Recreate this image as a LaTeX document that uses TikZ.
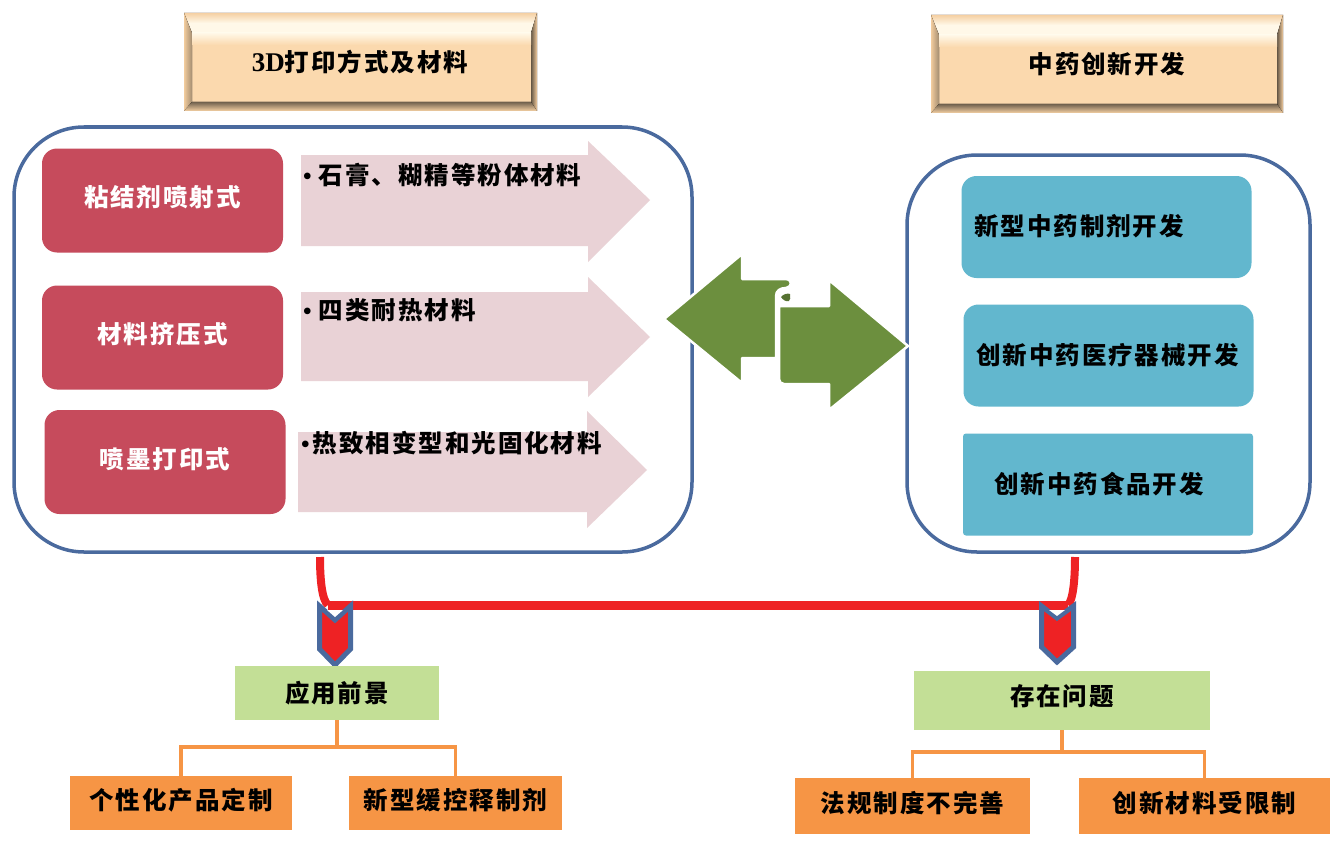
\documentclass[tikz,border=0pt]{standalone}
\usepackage{fontspec}
\setmainfont{Liberation Serif}
\newfontfamily\cjk[LetterSpace=8]{Noto Sans CJK SC}
\usepackage{tikz}
\definecolor{panelblue}{HTML}{4A6A9E}
\definecolor{roserd}{HTML}{C64B5C}
\definecolor{pinkarrow}{HTML}{E9D2D6}
\definecolor{leafgreen}{HTML}{6C8F3E}
\definecolor{tealbox}{HTML}{62B7CE}
\definecolor{limebox}{HTML}{C3DF96}
\definecolor{orangebox}{HTML}{F69545}
\definecolor{wheat}{HTML}{FBD9AE}
\definecolor{cream}{HTML}{FFF8E8}
\definecolor{linkred}{HTML}{EE2224}
\tikzset{
  txt/.style={font=\fontsize{24.5}{27}\selectfont\bfseries\cjk, text=black, inner sep=0pt},
  panel/.style={draw=panelblue, line width=3.5pt, fill=white, rounded corners=70pt},
  redbox/.style={fill=roserd, rounded corners=15pt, minimum width=241pt, minimum height=104pt, inner sep=0pt, txt, text=white, text depth=9pt},
  tealrect/.style={fill=tealbox, rounded corners=15pt, minimum width=290pt, minimum height=102pt, inner sep=0pt},
  limerect/.style={fill=limebox, inner sep=0pt, txt},
  orangerect/.style={fill=orangebox, inner sep=0pt, txt, text depth=8pt},
  redlink/.style={draw=linkred, line width=8pt},
  forkline/.style={draw=orangebox, line width=3.5pt},
  chevron/.style={draw=panelblue, line width=5pt, fill=linkred, miter limit=10},
  pinkshape/.style={fill=pinkarrow},
  leafshape/.style={fill=leafgreen, draw=white, line width=2.5pt, line join=round},
}
\newcommand{\bevelbox}[4]{%
  \fill[wheat] (#1,#2) rectangle (#3,#4);
  \fill[top color=wheat!90!brown, bottom color=cream, middle color=cream] (#1,#2) -- (#3,#2) -- (#3-6,#2+20) -- (#1+8,#2+20) -- cycle;
  \fill[left color=wheat!85!brown, right color=black!35!wheat] (#1,#2) -- (#1+8,#2+20) -- (#1+8,#4-9) -- (#1,#4) -- cycle;
  \fill[left color=black!60!wheat, right color=wheat!85!brown] (#3-6,#2+20) -- (#3,#2) -- (#3,#4) -- (#3-6,#4-9) -- cycle;
  \fill[top color=black!55!wheat, bottom color=wheat!90!brown] (#1,#4) -- (#1+8,#4-9) -- (#3-6,#4-9) -- (#3,#4) -- cycle;
  \fill[top color=cream, bottom color=wheat] (#1+8,#2+20) rectangle (#3-6,#2+32);
}

\begin{document}
\begin{tikzpicture}[x=1pt, y=-1pt]
\useasboundingbox (0,0) rectangle (1340,848);

% Title plates
\bevelbox{184}{13}{537}{111}
\bevelbox{931}{15}{1283}{113}
\node[txt] (printTitle) at (360,62) {{\rmfamily\fontsize{27}{27}\selectfont 3D}打印方式及材料};
\node[txt] (tcmTitle) at (1107,64) {中药创新开发};

% Panels
\draw[panel] (14,127) rectangle (692,552);
\draw[panel] (907,155) rectangle (1310,552);

% Printing methods
\node[redbox] (binder) at (162.5,200.5) {粘结剂喷射式};
\node[redbox] (extrude) at (162.5,337.5) {材料挤压式};
\node[redbox] (inkjet) at (165,462) {喷墨打印式};

% Material arrows
\fill[pinkshape] (301,155) -- (588,155) -- (588,141) -- (650,200) -- (588,262) -- (588,246) -- (301,246) -- cycle;
\fill[pinkshape] (301,292) -- (588,292) -- (588,277) -- (650,337) -- (588,397) -- (588,381) -- (301,381) -- cycle;
\fill[pinkshape] (298,432) -- (587,432) -- (587,411) -- (647,470) -- (587,528) -- (587,512) -- (298,512) -- cycle;
\node[txt, anchor=west] (binderText) at (303,175) {{\rmfamily •}\hspace{7pt}石膏、糊精等粉体材料};
\node[txt, anchor=west] (extrudeText) at (303,310) {{\rmfamily •}\hspace{7pt}四类耐热材料};
\node[txt, anchor=west] (inkjetText) at (301,443) {{\rmfamily •}\hspace{3pt}热致相变型和光固化材料};

% Double puzzle arrow
\draw[leafshape] (664,319) -- (742,254) -- (742,279) -- (786,279) .. controls (793,280) and (792,287) .. (786,288) .. controls (780,288) and (776,291) .. (776,296) -- (776,358) -- (742,358) -- (742,383) -- cycle;
\draw[leafshape] (779,306) -- (829,306) -- (829,280) -- (908,346) -- (829,410) -- (829,384) -- (784,384) .. controls (781,384) and (779,382) .. (779,379) -- cycle;
\fill[leafgreen!80!black] (781,297) .. controls (783,294) and (788,293) .. (790,294) .. controls (791,297) and (790,300) .. (789,301) .. controls (786,302) and (783,300) .. (781,297) -- cycle;

% Development directions
\node[tealrect] (dosage) at (1106.5,227) {};
\node[tealrect] (device) at (1108.5,355.5) {};
\node[tealrect, rounded corners=3pt] (food) at (1108,484.5) {};
\node[txt, anchor=west] (dosageText) at (974,226) {新型中药制剂开发};
\node[txt, anchor=west] (deviceText) at (976,355) {创新中药医疗器械开发};
\node[txt, anchor=west] (foodText) at (994,484) {创新中药食品开发};

% Red links
\coordinate (linkLeft) at (320,557);
\coordinate (bendLeft) at (328,605);
\coordinate (linkRight) at (1075,557);
\coordinate (bendRight) at (1068,605);
\draw[redlink] (linkLeft) .. controls (320,580) and (322,600) .. (bendLeft);
\draw[redlink] (linkRight) .. controls (1075,580) and (1073,600) .. (bendRight);
\draw[redlink, line width=9pt] (bendLeft) -- (bendRight);

% Chevrons
\draw[chevron] (319.5,606) -- (335,620) -- (350.5,606) -- (350.5,649) -- (335,665) -- (319.5,649) -- cycle;
\draw[chevron] (1041.5,606) -- (1057,618) -- (1073.5,606) -- (1073.5,647) -- (1057,662) -- (1041.5,647) -- cycle;
\fill[white] (327,610) -- (343,610) -- (335,617) -- cycle;
\fill[white] (1049,610) -- (1065,610) -- (1057,616) -- cycle;

% Outcome boxes
\node[limerect, minimum width=204pt, minimum height=54pt] (prospect) at (337,693) {应用前景};
\node[limerect, minimum width=296pt, minimum height=59pt, text depth=10pt] (problem) at (1062,700.5) {存在问题};
\node[orangerect, minimum width=222pt, minimum height=54pt] (custom) at (181,803) {个性化产品定制};
\node[orangerect, minimum width=213pt, minimum height=54pt] (release) at (455.5,803) {新型缓控释制剂};
\node[orangerect, minimum width=235pt, minimum height=56pt] (rules) at (912.5,806) {法规制度不完善};
\node[orangerect, minimum width=251pt, minimum height=56pt] (limits) at (1204.5,806) {创新材料受限制};

% Orange forks
\coordinate (forkLeft) at (337,747);
\coordinate (forkRight) at (1062,752);
\draw[forkline] (prospect.south) -- (forkLeft);
\draw[forkline] (custom.north) |- (forkLeft);
\draw[forkline] (release.north) |- (forkLeft);
\draw[forkline] (problem.south) -- (forkRight);
\draw[forkline] (rules.north) |- (forkRight);
\draw[forkline] (limits.north) |- (forkRight);
\end{tikzpicture}
\end{document}
